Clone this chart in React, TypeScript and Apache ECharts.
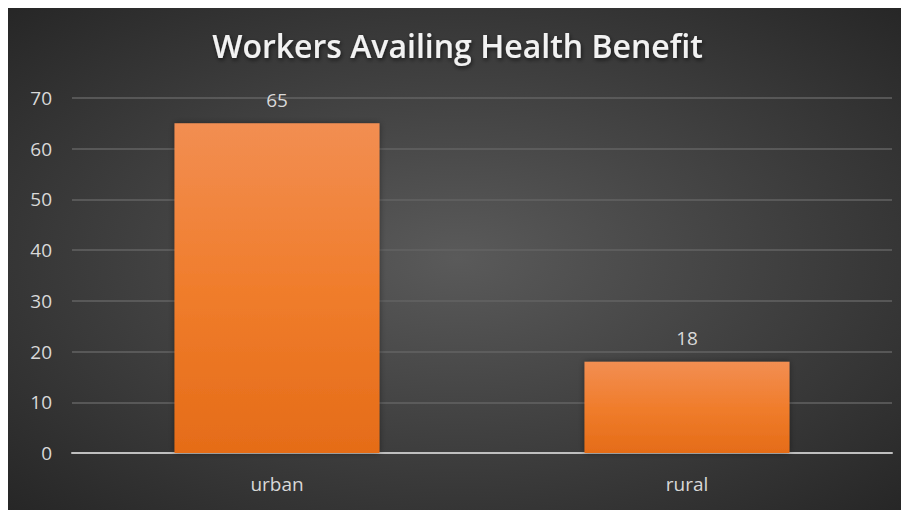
import React, { useEffect, useRef } from "react";
import * as echarts from "echarts";

const categories = ["urban", "rural"];
const values = [65, 18];
const titleText = "Workers Availing Health Benefit";

export default function App() {
  const ref = useRef<HTMLDivElement>(null);
  useEffect(() => {
    if (!ref.current) return;
    const chart = echarts.init(ref.current, null, { renderer: "svg" });
    chart.setOption({
      animation: false,
      backgroundColor: new echarts.graphic.RadialGradient(0.5, 0.5, 0.75, [
        { offset: 0, color: "#5a5a5a" },
        { offset: 1, color: "#232323" },
      ]),
      title: {
        text: titleText,
        left: "center",
        top: 18,
        textStyle: {
          color: "#f2f2f2",
          fontFamily: "Open Sans",
          fontWeight: 600,
          fontSize: 32,
          textShadowColor: "rgba(0,0,0,0.6)",
          textShadowBlur: 4,
          textShadowOffsetX: 1,
          textShadowOffsetY: 2,
        },
      },
      grid: { left: 64, right: 15, top: 92, bottom: 57 },
      xAxis: {
        type: "category",
        data: categories,
        axisLine: { lineStyle: { color: "#bfbfbf", width: 2 } },
        axisTick: { show: false },
        axisLabel: { color: "#d9d9d9", fontSize: 19, margin: 21, fontFamily: "Open Sans" },
      },
      yAxis: {
        type: "value",
        min: 0,
        max: 70,
        interval: 10,
        axisLine: { show: false },
        axisTick: { show: false },
        axisLabel: { color: "#d9d9d9", fontSize: 19, margin: 20, fontFamily: "Open Sans" },
        splitLine: { lineStyle: { color: "#636363", width: 1.5 } },
      },
      series: [
        {
          type: "bar",
          data: values,
          barCategoryGap: "50%",
          itemStyle: {
            color: new echarts.graphic.LinearGradient(0, 0, 0, 1, [
              { offset: 0, color: "#f28e52" },
              { offset: 0.5, color: "#f07d2c" },
              { offset: 1, color: "#e56c18" },
            ]),
            shadowColor: "rgba(0,0,0,0.4)",
            shadowBlur: 6,
          },
          label: {
            show: true,
            position: "top",
            distance: 14,
            color: "#d9d9d9",
            fontSize: 19,
            fontFamily: "Open Sans",
          },
        },
      ],
    });
    return () => chart.dispose();
  }, []);
  return <div ref={ref} style={{ width: 899, height: 504, marginTop: -2 }} />;
}
